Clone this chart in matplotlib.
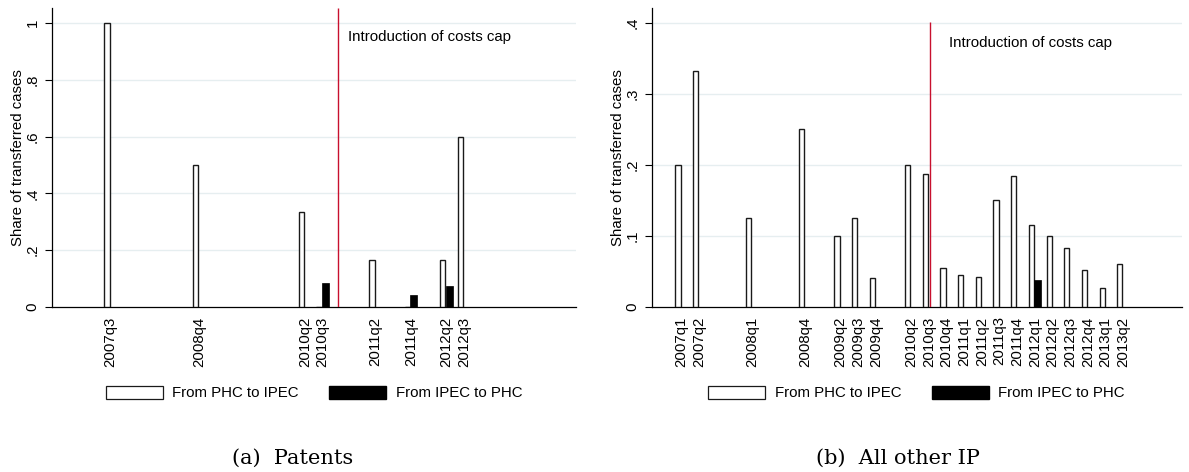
import matplotlib
matplotlib.use("Agg")
import matplotlib.pyplot as plt
from matplotlib.patches import Patch

plt.rcParams['font.family'] = ['Liberation Sans', 'DejaVu Sans']

# ---------------- data ----------------
# (a) Patents
pat_quarters = ["2007q3", "2008q4", "2010q2", "2010q3", "2011q2", "2011q4", "2012q2", "2012q3"]
pat_phc_to_ipec = [1.0, 0.5, 0.333, 0.0, 0.167, 0.0, 0.167, 0.6]
pat_ipec_to_phc = [0.0, 0.0, 0.0, 0.083, 0.0, 0.042, 0.075, 0.0]

# (b) All other IP
oth_quarters = ["2007q1", "2007q2", "2008q1", "2008q4", "2009q2", "2009q3", "2009q4",
                "2010q2", "2010q3", "2010q4", "2011q1", "2011q2", "2011q3", "2011q4",
                "2012q1", "2012q2", "2012q3", "2012q4", "2013q1", "2013q2"]
oth_phc_to_ipec = [0.2, 0.333, 0.125, 0.25, 0.1, 0.125, 0.04,
                   0.2, 0.1875, 0.055, 0.045, 0.0417, 0.15, 0.185,
                   0.115, 0.1, 0.083, 0.052, 0.027, 0.06]
oth_ipec_to_phc = [0, 0, 0, 0, 0, 0, 0,
                   0, 0, 0, 0, 0, 0, 0,
                   0.038, 0, 0, 0, 0, 0]

# position of the "costs cap" line (quarters since 2007q1)
pat_cap = 15.05
oth_cap = 14.28


def qidx(label):
    return (int(label[:4]) - 2007) * 4 + int(label[-1]) - 1


FS = 10.8
GRID = '#e6eef0'
RED = '#c8102e'

fig = plt.figure(figsize=(11.89, 4.72), dpi=100)


def panel(rect, quarters, white, black, ylim, yticks, yticklabels, xlim, cap, txt_xy, line_top):
    ax = fig.add_axes(rect)
    x = [qidx(q) for q in quarters]
    xb = [v + 0.36 for v in x]
    ax.bar(x, white, width=0.3, color='white', edgecolor='#1a1a1a', linewidth=1.0, zorder=3)
    ax.bar([p for p, h in zip(xb, black) if h > 0], [h for h in black if h > 0],
           width=0.38, color='black', edgecolor='black', linewidth=0.5, zorder=3)
    ax.set_xlim(*xlim)
    ax.set_ylim(*ylim)
    ax.set_yticks(yticks)
    ax.set_yticklabels(yticklabels, rotation=90, va='center', fontsize=FS)
    ax.set_xticks([v + 0.2 for v in x])
    ax.set_xticklabels(quarters, rotation=90, fontsize=FS)
    ax.tick_params(axis='x', length=0, pad=7)
    ax.tick_params(axis='y', length=5, width=0.8, pad=4)
    for t in yticks[1:]:
        ax.axhline(t, color=GRID, linewidth=1.0, zorder=1)
    ax.spines['top'].set_visible(False)
    ax.spines['right'].set_visible(False)
    ax.spines['left'].set_linewidth(0.9)
    ax.spines['bottom'].set_linewidth(0.9)
    ax.vlines(cap, 0, line_top, color=RED, linewidth=1.0, zorder=4)
    ax.text(txt_xy[0], txt_xy[1], "Introduction of costs cap", fontsize=FS, va='center', ha='left')
    ax.set_ylabel("Share of transferred cases", fontsize=FS, labelpad=0.5)
    return ax


axL = panel([52 / 1189, 165 / 472, 523.7 / 1189, 299 / 472],
            pat_quarters, pat_phc_to_ipec, pat_ipec_to_phc,
            (0, 1.053), [0, 0.2, 0.4, 0.6, 0.8, 1.0], ["0", ".2", ".4", ".6", ".8", "1"],
            (-1.11, 28.52), pat_cap, (15.65, 0.952), 1.053)
axR = panel([651.7 / 1189, 165.3 / 472, 530 / 1189, 298.7 / 472],
            oth_quarters, oth_phc_to_ipec, oth_ipec_to_phc,
            (0, 0.4213), [0, 0.1, 0.2, 0.3, 0.4], ["0", ".1", ".2", ".3", ".4"],
            (-1.49, 28.5), oth_cap, (15.34, 0.3715), 0.401)

handles = [Patch(facecolor='white', edgecolor='#1a1a1a', linewidth=0.9, label='From PHC to IPEC'),
           Patch(facecolor='black', edgecolor='black', label='From IPEC to PHC')]
for cx in [(52 + 575.7) / 2 / 1189, (651.7 + 1181.7) / 2 / 1189]:
    fig.legend(handles=handles, loc='center', bbox_to_anchor=(cx, 79 / 472), ncol=2,
               frameon=False, fontsize=FS, handlelength=3.8, handleheight=1.0,
               handletextpad=0.65, columnspacing=2.0)

fig.text(292.5 / 1189, 14 / 472, "(a)  Patents", family='DejaVu Serif', fontsize=15,
         ha='center', va='center')
fig.text(898 / 1189, 14 / 472, "(b)  All other IP", family='DejaVu Serif', fontsize=15,
         ha='center', va='center')

fig.savefig("out.png", dpi=100)
